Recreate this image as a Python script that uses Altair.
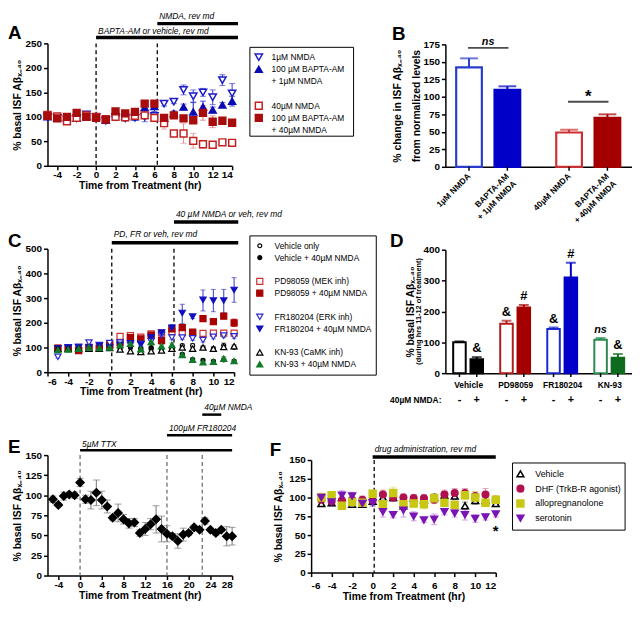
import altair as alt
import pandas as pd

FONT = "Liberation Sans"
T = "transparent"
YT = "% basal ISF Aβₓ₋₄₀"
XT = "Time from Treatment (hr)"

# ---------------- Panel A data ----------------
A_hours = [-5, -4, -3, -2, -1, 0, 1, 2, 3, 4, 5, 6, 7, 8, 9, 10, 11, 12, 13, 14]
A_nmda1 = [100, 98, 95, 97, 105, 100, 92, 100, 97, 98, 100, 102, 127, 131, 155, 142, 150, 140, 175, 148]
A_nmda1_err = [4, 3, 3, 4, 5, 6, 4, 4, 5, 5, 10, 6, 5, 4, 10, 13, 8, 15, 11, 20]
A_bapta1 = [100, 98, 98, 97, 100, 102, 93, 108, 102, 100, 119, 121, 97, 107, 120, 110, 120, 114, 124, 132]
A_bapta1_err = [3, 3, 3, 3, 4, 4, 4, 4, 5, 5, 10, 10, 6, 5, 6, 20, 12, 6, 5, 10]
A_nmda40 = [104, 101, 91, 98, 103, 100, 95, 100, 99, 102, 103, 98, 87, 66, 66, 51, 44, 43, 48, 47]
A_nmda40_err = [4, 4, 6, 4, 4, 5, 4, 4, 5, 6, 5, 4, 12, 5, 20, 15, 8, 4, 4, 4]
A_bapta40 = [102, 97, 100, 108, 100, 98, 95, 111, 107, 110, 127, 127, 98, 103, 97, 93, 108, 90, 92, 88]
A_bapta40_err = [4, 4, 5, 5, 5, 5, 5, 5, 5, 6, 6, 6, 6, 5, 5, 5, 15, 12, 5, 6]
A_legend = ["1µM NMDA", "100 µM BAPTA-AM", "+ 1µM NMDA", " ", "40µM NMDA", "100 µM BAPTA-AM ", "+ 40µM NMDA"]
A_ann_labels = ["NMDA, rev md", "BAPTA-AM or vehicle, rev md"]
A_ann_start = [6.3, 0]
A_ann_end = [14.6, 14.6]
A_vlines = [0, 6.3]

# ---------------- Panel B data ----------------
B_labels = ["1µM NMDA", "BAPTA-AM\n+ 1µM NMDA", "40µM NMDA", "BAPTA-AM\n+ 40µM NMDA"]
B_dose_order = ["1µM", "40µM"]
B_dose = ["1µM", "1µM", "40µM", "40µM"]
B_pre = ["none", "BAPTA-AM", "none", "BAPTA-AM"]
B_values = [142, 110, 49, 70]
B_sem = [13, 5, 4, 5]
B_sig_dose = ["1µM", "40µM"]
B_sig_y = [170, 93]
B_sig_txt = ["ns", "*"]

# ---------------- Panel C data ----------------
C_hours = [-5, -4, -3, -2, -1, 0, 1, 2, 3, 4, 5, 6, 7, 8, 9, 10, 11, 12]
C_veh = [95, 97, 100, 100, 98, 105, 95, 100, 96, 95, 97, 97, 108, 108, 99, 95, 108, 100]
C_veh_err = [4, 4, 5, 5, 4, 6, 5, 5, 5, 5, 5, 6, 6, 8, 7, 8, 10, 6]
C_vehN = [93, 95, 97, 98, 100, 103, 104, 104, 93, 100, 93, 95, 72, 51, 48, 44, 50, 44]
C_vehN_err = [4, 4, 5, 5, 4, 5, 6, 6, 5, 5, 5, 6, 6, 6, 6, 6, 6, 5]
C_pd = [98, 97, 90, 97, 97, 112, 145, 148, 142, 155, 158, 165, 160, 157, 157, 158, 158, 158]
C_pd_err = [5, 4, 5, 5, 5, 6, 6, 7, 7, 8, 8, 9, 8, 8, 8, 8, 8, 8]
C_pdN = [95, 96, 87, 100, 96, 108, 120, 140, 135, 150, 128, 175, 180, 162, 217, 205, 227, 200]
C_pdN_err = [5, 5, 6, 6, 6, 7, 8, 10, 9, 10, 10, 15, 10, 10, 10, 10, 10, 15]
C_fr = [62, 100, 103, 120, 110, 118, 120, 110, 115, 125, 150, 140, 140, 137, 130, 143, 148, 145]
C_fr_err = [5, 5, 6, 6, 6, 6, 6, 6, 6, 7, 8, 8, 8, 8, 8, 8, 8, 8]
C_frN = [97, 100, 100, 100, 107, 100, 110, 117, 112, 140, 160, 180, 240, 225, 293, 290, 290, 333]
C_frN_dn = [5, 5, 5, 5, 6, 6, 6, 8, 8, 10, 10, 12, 43, 8, 45, 45, 50, 50]
C_frN_up = [5, 5, 5, 5, 6, 6, 6, 8, 8, 10, 10, 12, 35, 8, 40, 45, 45, 50]
C_kn = [95, 95, 97, 95, 95, 98, 92, 85, 82, 85, 88, 95, 100, 95, 100, 95, 102, 105]
C_kn_err = [4, 4, 5, 5, 5, 5, 5, 5, 5, 5, 5, 6, 6, 6, 6, 6, 8, 6]
C_knN = [90, 92, 95, 100, 98, 100, 110, 115, 93, 122, 105, 110, 70, 50, 40, 42, 55, 45]
C_knN_err = [5, 5, 5, 6, 6, 6, 7, 7, 6, 7, 6, 8, 6, 6, 6, 6, 8, 6]
C_legend = ["Vehicle only", "Vehicle + 40µM NMDA", " ",
            "PD98059 (MEK inh)", "PD98059 + 40µM NMDA", "  ",
            "FR180204 (ERK inh)", "FR180204 + 40µM NMDA", "   ",
            "KN-93 (CaMK inh)", "KN-93 + 40µM NMDA"]
C_ann_labels = ["40 µM NMDA or veh, rev md", "PD, FR or veh, rev md"]
C_ann_start = [6.2, 0.2]
C_ann_end = [12.4, 12.4]
C_vlines = [0.2, 6.2]

# ---------------- Panel D data ----------------
D_drug_order = ["Vehicle", "PD98059", "FR180204", "KN-93"]
D_drug = ["Vehicle", "Vehicle", "PD98059", "PD98059", "FR180204", "FR180204", "KN-93", "KN-93"]
D_nmda = ["-", "+", "-", "+", "-", "+", "-", "+"]
D_values = [100, 45, 160, 213, 143, 310, 108, 50]
D_sem = [3, 7, 10, 8, 5, 48, 6, 12]
D_marks = ["", "&", "&", "#", "&", "#", "ns", "&"]

# ---------------- Panel E data ----------------
E_hours = [-5, -4, -3, -2, -1, 0, 1, 2, 3, 4, 5, 6, 7, 8, 9, 10, 11, 12, 13, 14, 15, 16,
           17, 18, 19, 20, 21, 22, 23, 24, 25, 26, 27, 28]
E_values = [95, 88, 99, 101, 100, 116, 95, 94, 103, 94, 86, 72, 78, 70, 65, 66, 53, 58, 64, 70,
            58, 52, 49, 43, 51, 53, 60, 57, 68, 57, 53, 57, 49, 49]
E_sem = [4, 2, 5, 2, 4, 5, 5, 11, 16, 11, 8, 3, 11, 6, 6, 5, 4, 8, 7, 17, 16, 10, 3, 9, 8, 3,
         2, 2, 4, 2, 3, 2, 12, 11]
E_ann_labels = ["40µM NMDA", "100µM FR180204", "5µM TTX"]
E_ann_start = [22.5, 16, 0]
E_ann_end = [26, 28, 28]
E_vlines = [0, 16, 22.5]

# ---------------- Panel F data ----------------
F_hours = [-5, -4, -3, -2, -1, 0, 1, 2, 3, 4, 5, 6, 7, 8, 9, 10, 11, 12]
F_veh = [92, 93, 100, 91, 91, 95, 100, 100, 89, 99, 97, 100, 103, 102, 89, 96, 96, 92]
F_veh_err = [4, 4, 5, 4, 4, 5, 5, 5, 5, 5, 5, 5, 5, 5, 5, 5, 5, 4]
F_dhf = [97, 95, 96, 97, 97, 96, 104, 100, 100, 99, 99, 97, 104, 106, 106, 102, 104, 97]
F_dhf_err = [5, 5, 5, 5, 5, 5, 6, 5, 5, 5, 5, 5, 6, 6, 6, 6, 8, 5]
F_allo = [100, 103, 89, 94, 93, 105, 91, 106, 91, 92, 91, 99, 93, 90, 103, 100, 93, 97]
F_allo_err = [6, 5, 5, 5, 5, 5, 6, 8, 5, 5, 6, 6, 5, 5, 6, 8, 5, 5]
F_sero = [100, 94, 103, 102, 92, 93, 81, 77, 83, 75, 70, 71, 81, 79, 77, 72, 74, 78]
F_sero_err = [5, 5, 6, 5, 5, 5, 7, 4, 9, 6, 3, 7, 4, 5, 7, 5, 4, 4]
F_legend = ["Vehicle", "DHF (TrkB-R agonist)", "allopregnanolone", "serotonin"]
F_ann_labels = ["drug administration, rev md"]
F_ann_start = [0]
F_ann_end = [12]
F_vlines = [0.15]
F_star = ("*", 12, 55)

# ---------------- styles ----------------
AX = dict(labelFont=FONT, labelFontSize=10, labelFontWeight="bold", labelColor="black",
          titleFont=FONT, titleFontSize=10.5, titleFontWeight="bold", titleColor="black",
          domainColor="black", domainWidth=1.5, tickColor="black", tickWidth=1.5,
          tickSize=4, grid=False)


def one(**kw):
    return pd.DataFrame({k: [v] for k, v in kw.items()})


def letter_layer(letter, x, y):
    return alt.Chart(one(t=letter)).mark_text(
        align="left", baseline="middle", font=FONT, fontSize=19, fontWeight="bold", color="black"
    ).encode(text="t:N", x=alt.value(x), y=alt.value(y))


def tc_layers(letter, hours, series, dom, fills, strokes, shapes, sizes, errcols,
              xdom, xvals, ydom, yvals, x0, w, y0, h, vlines, vcolor, ann, ann_levels,
              legend, letter_xy, xlab_pad=0, ytitle_pad=3, cap=6, psw=1.5, ann_bar=3.5,
              extra=None, xaxis_offset=0, yaxis_offset=0):
    rows = []
    for name, vals, dn, up in series:
        for t, v, d, u in zip(hours, vals, dn, up):
            rows.append({"hour": t, "series": name, "value": v, "lo": v - d, "hi": v + u})
    df = pd.DataFrame(rows)
    xs = alt.Scale(domain=xdom, range=[x0, x0 + w], nice=False, zero=False)
    ys = alt.Scale(domain=ydom, range=[y0 + h, y0], nice=False, zero=False)
    xax = alt.Axis(values=xvals, title=XT, labelPadding=xlab_pad, titlePadding=1,
                   labelExpr="datum.value", orient="bottom", offset=xaxis_offset, **AX)
    yax = alt.Axis(values=yvals, title=YT, labelPadding=2, titlePadding=ytitle_pad,
                   labelExpr="datum.value", orient="left", offset=yaxis_offset, **AX)

    def X(f):
        return alt.X(f, type="quantitative", scale=xs, axis=xax)

    def Y(f):
        return alt.Y(f, type="quantitative", scale=ys, axis=yax)

    ecol = alt.Color("series:N", scale=alt.Scale(domain=dom, range=errcols), legend=None)
    fill = alt.Fill("series:N", scale=alt.Scale(domain=dom, range=fills), legend=None)
    stroke = alt.Stroke("series:N", scale=alt.Scale(domain=dom, range=strokes), legend=None)
    shape = alt.Shape("series:N", scale=alt.Scale(domain=dom, range=shapes), legend=None)
    size = alt.Size("series:N", scale=alt.Scale(type="ordinal", domain=dom, range=sizes), legend=None)

    layers = []
    layers.append(alt.Chart(pd.DataFrame({"t": vlines})).mark_rule(
        strokeDash=[4, 3], strokeWidth=1.3, color=vcolor).encode(
        x=X("t"), y=alt.YDatum(ydom[1], scale=ys, axis=yax), y2=alt.Y2Datum(ydom[0])))
    layers.append(alt.Chart(df).mark_rule(strokeWidth=1.1).encode(
        x=X("hour"), y=Y("lo"), y2="hi:Q", color=ecol))
    layers.append(alt.Chart(df).transform_fold(["lo", "hi"], as_=["k", "cap"]).mark_tick(
        orient="horizontal", size=cap, thickness=1.1).encode(x=X("hour"), y=Y("cap"), color=ecol))
    layers.append(alt.Chart(df).mark_point(filled=True, opacity=1, strokeWidth=psw).encode(
        x=X("hour"), y=Y("value"), fill=fill, stroke=stroke, shape=shape, size=size))
    labels, starts, ends = ann
    for (lab, s, e), (ty, by) in zip(zip(labels, starts, ends), ann_levels):
        adf = one(start=s, end=e, label=lab)
        layers.append(alt.Chart(adf).mark_rule(strokeWidth=ann_bar, color="black").encode(
            x=X("start"), x2="end:Q", y=alt.value(y0 + by)))
        layers.append(alt.Chart(adf).mark_text(
            align="left", baseline="middle", fontStyle="italic", font=FONT, fontSize=8.5,
            color="black", dx=2).encode(x=X("start"), y=alt.value(y0 + ty), text="label:N"))
    if extra is not None:
        txt, ex, ey = extra
        layers.append(alt.Chart(one(t=txt, x=ex, y=ey)).mark_text(
            font=FONT, fontSize=15, fontWeight="bold", baseline="middle", color="black").encode(
            x=X("x"), y=Y("y"), text="t:N"))
    if legend is not None:
        lx, ly, bw, bh, first, step, sdx, tdx, lfont = legend
        lx, ly = lx + x0, ly + y0
        ldf = pd.DataFrame({"series": dom, "label": [s.strip() for s in dom],
                            "py": [ly + first + i * step for i in range(len(dom))]})
        layers.append(alt.Chart(one(a=0)).mark_rect(fill="white", stroke="black", strokeWidth=1).encode(
            x=alt.value(lx), x2=alt.value(lx + bw), y=alt.value(ly), y2=alt.value(ly + bh)))
        layers.append(alt.Chart(ldf).mark_point(filled=True, opacity=1, strokeWidth=psw).encode(
            x=alt.value(lx + sdx), y=alt.Y("py:Q", scale=None),
            fill=fill, stroke=stroke, shape=shape, size=size))
        layers.append(alt.Chart(ldf).mark_text(
            align="left", baseline="middle", font=FONT, fontSize=lfont, color="black").encode(
            x=alt.value(lx + tdx), y=alt.Y("py:Q", scale=None), text="label:N"))
    layers.append(letter_layer(letter, x0 + letter_xy[0], y0 + letter_xy[1]))
    return layers


# ---------------- Panel A ----------------
A = alt.layer(*tc_layers(
    "A", A_hours,
    [(A_legend[0], A_nmda1, A_nmda1_err, A_nmda1_err),
     (A_legend[1], A_bapta1, A_bapta1_err, A_bapta1_err),
     (A_legend[4], A_nmda40, A_nmda40_err, A_nmda40_err),
     (A_legend[5], A_bapta40, A_bapta40_err, A_bapta40_err)],
    A_legend,
    ["white", "#0b0bb4", T, T, "white", "#a80c0c", T],
    ["#1c1cc8", "#0b0bb4", T, T, "#c42020", "#a80c0c", T],
    ["triangle-down", "triangle-up", "circle", "circle", "square", "square", "circle"],
    [55, 50, 10, 10, 48, 48, 10],
    ["#4a4ad8", "#2a2ac0", T, T, "#e09a9a", "#d88080", T],
    [-5, 14], [-4, -2, 0, 2, 4, 6, 8, 10, 12, 14], [0, 250], [0, 50, 100, 150, 200, 250],
    0, 187, 0, 124, A_vlines, "black",
    (A_ann_labels, A_ann_start, A_ann_end), [(-28, -20), (-13, -6)],
    (205, 4, 105, 90, 10, 12.3, 9, 22, 8.5), (-40, -10))).properties(width=187, height=124)


# ---------------- Panel B ----------------
def panel_B():
    # group index and side within group -> continuous bar position (group spacing = 1 unit)
    pos = [B_dose_order.index(d) + (-0.1916 if p == "none" else 0.1916) for d, p in zip(B_dose, B_pre)]
    df = pd.DataFrame({"label": B_labels, "pos": pos, "value": B_values,
                       "hi": [v + e for v, e in zip(B_values, B_sem)]})
    w, vh, h0 = 189, 125, 1
    ys = alt.Scale(domain=[0, 175], range=[vh, h0], nice=False)
    xs = alt.Scale(domain=[-0.3785, 1.388], nice=False, zero=False)
    fills = ["white", "#0000c8", "white", "#a50000"]
    strokes = ["#2a3ccc", "#0000c8", "#cc3030", "#a50000"]
    xax = alt.Axis(labels=False, ticks=False, title=None, grid=False,
                   domainColor="black", domainWidth=1.5)
    yax = alt.Axis(values=[0, 25, 50, 75, 100, 125, 150, 175],
                   title=["% change in ISF Aβₓ₋₄₀", "from normalized levels"],
                   titleLineHeight=19, labelPadding=2, titlePadding=2, **AX)

    def X(f="pos"):
        return alt.X(f, type="quantitative", scale=xs, axis=xax)

    def Y(f):
        return alt.Y(f, type="quantitative", scale=ys, axis=yax)
    col = alt.Color("label:N", scale=alt.Scale(domain=B_labels, range=strokes), legend=None)

    bars = alt.Chart(df).mark_bar(size=26, strokeWidth=2.2, orient="vertical").encode(
        x=X(), y=Y("value"),
        fill=alt.Fill("label:N", scale=alt.Scale(domain=B_labels, range=fills), legend=None),
        stroke=alt.Stroke("label:N", scale=alt.Scale(domain=B_labels, range=strokes), legend=None))
    err = alt.Chart(df).mark_rule(strokeWidth=2).encode(x=X(), y=Y("value"), y2="hi:Q", color=col)
    caps = alt.Chart(df).mark_tick(orient="horizontal", size=18, thickness=2).encode(
        x=X(), y=Y("hi"), color=col)
    ticks = alt.Chart(df).mark_rule(color="black", strokeWidth=1.5).encode(
        x=X(), y=alt.value(vh), y2=alt.value(vh + 4))
    labels = alt.Chart(df).mark_text(
        angle=315, align="right", baseline="middle", lineBreak="\n", font=FONT,
        fontSize=8.5, fontWeight="bold", color="black").encode(
        x=X(), y=alt.value(vh + 8), text="label:N")
    layers = [bars, err, caps, ticks, labels]
    for d, yv, txt in zip(B_sig_dose, B_sig_y, B_sig_txt):
        sdf = one(g=B_dose_order.index(d), y=yv, t=txt)
        layers.append(alt.Chart(sdf).mark_tick(orient="horizontal", size=41, thickness=2,
                                               color="black").encode(x=X("g"), y=Y("y")))
        if txt == "*":
            mk = alt.Chart(sdf).mark_text(font=FONT, fontSize=17, fontWeight="bold",
                                          baseline="bottom", dy=4, color="black")
        else:
            mk = alt.Chart(sdf).mark_text(font=FONT, fontSize=11, fontWeight="bold",
                                          fontStyle="italic", baseline="bottom", dy=-1, color="black")
        layers.append(mk.encode(x=X("g"), y=Y("y"), text="t:N"))
    layers.append(letter_layer("B", -54, -9))
    return alt.layer(*layers).properties(width=w, height=vh)


B = panel_B()

# ---------------- Panel C ----------------
C = alt.layer(*tc_layers(
    "C", C_hours,
    [(C_legend[0], C_veh, C_veh_err, C_veh_err),
     (C_legend[1], C_vehN, C_vehN_err, C_vehN_err),
     (C_legend[3], C_pd, C_pd_err, C_pd_err),
     (C_legend[4], C_pdN, C_pdN_err, C_pdN_err),
     (C_legend[6], C_fr, C_fr_err, C_fr_err),
     (C_legend[7], C_frN, C_frN_dn, C_frN_up),
     (C_legend[9], C_kn, C_kn_err, C_kn_err),
     (C_legend[10], C_knN, C_knN_err, C_knN_err)],
    C_legend,
    ["white", "black", T, "white", "#a80000", T, "white", "#1010c0", T, "white", "#137a2a"],
    ["black", "black", T, "#cc3333", "#a80000", T, "#2a2ad0", "#1010c0", T, "black", "#137a2a"],
    ["circle", "circle", "circle", "square", "square", "circle", "triangle-down",
     "triangle-down", "circle", "triangle-up", "triangle-up"],
    [16, 16, 10, 38, 38, 10, 40, 40, 10, 40, 40],
    ["#555555", "#333333", T, "#d08080", "#a80000", T, "#6a6ad4", "#4848c8", T, "#555555", "#3a8a4a"],
    [-6, 12], [-6, -4, -2, 0, 2, 4, 6, 8, 10, 12], [0, 500], [0, 100, 200, 300, 400, 500],
    0, 189, 0, 125, C_vlines, "black",
    (C_ann_labels, C_ann_start, C_ann_end), [(-35, -27), (-15, -6)],
    (205, -13, 128, 141, 10, 12, 10, 25, 8.5), (-40, -8), cap=5, psw=1.2)
).properties(width=189, height=125)


# ---------------- Panel D ----------------
def panel_D():
    keys = [d + "|" + n for d, n in zip(D_drug, D_nmda)]
    pos = [D_drug_order.index(d) + (-0.184 if n == "-" else 0.184) for d, n in zip(D_drug, D_nmda)]
    df = pd.DataFrame({"key": keys, "pos": pos, "nmda": D_nmda, "value": D_values,
                       "hi": [v + e for v, e in zip(D_values, D_sem)], "mark": D_marks})
    w, vh, h0 = 189, 126, 1
    ys = alt.Scale(domain=[0, 400], range=[vh, h0], nice=False)
    xs = alt.Scale(domain=[-0.378, 3.379], nice=False, zero=False)
    fills = ["white", "#000000", "white", "#a50000", "white", "#0000c8", "white", "#0d6b1e"]
    strokes = ["#000000", "#000000", "#b01c1c", "#a50000", "#1a2ad0", "#0000c8", "#2b8a50", "#0d6b1e"]
    dax = dict(AX)
    dax.update(labelFontSize=8.5)
    name_expr = "[" + ",".join("'" + s + "'" for s in D_drug_order) + "][datum.value]"
    xax = alt.Axis(values=list(range(len(D_drug_order))), labelExpr=name_expr, ticks=False,
                   title=None, labelAngle=0, labelPadding=8, **dax)
    yax = alt.Axis(values=[0, 100, 200, 300, 400], title=YT, labelPadding=2, titlePadding=8, **AX)

    def X(f="pos"):
        return alt.X(f, type="quantitative", scale=xs, axis=xax)

    def Y(f):
        return alt.Y(f, type="quantitative", scale=ys, axis=yax)
    col = alt.Color("key:N", scale=alt.Scale(domain=keys, range=strokes), legend=None)
    bars = alt.Chart(df).mark_bar(size=12.7, strokeWidth=2, orient="vertical").encode(
        x=X(), y=Y("value"),
        fill=alt.Fill("key:N", scale=alt.Scale(domain=keys, range=fills), legend=None),
        stroke=alt.Stroke("key:N", scale=alt.Scale(domain=keys, range=strokes), legend=None))
    err = alt.Chart(df).mark_rule(strokeWidth=2).encode(x=X(), y=Y("value"), y2="hi:Q", color=col)
    caps = alt.Chart(df).mark_tick(orient="horizontal", size=10, thickness=2).encode(
        x=X(), y=Y("hi"), color=col)
    ticks = alt.Chart(df).mark_rule(color="black", strokeWidth=1.5).encode(
        x=X(), y=alt.value(vh), y2=alt.value(vh + 4))
    signs = alt.Chart(df).mark_text(font=FONT, fontSize=11, fontWeight="bold", color="black",
                                    baseline="middle").encode(
        x=X(), y=alt.value(vh + 27), text="nmda:N")
    sym = alt.Chart(df).transform_filter("datum.mark == '&' || datum.mark == '#'").mark_text(
        font=FONT, fontSize=13, fontWeight="bold", color="black", baseline="bottom", dy=-2).encode(
        x=X(), y=Y("hi"), text="mark:N")
    ns = alt.Chart(df).transform_filter("datum.mark == 'ns'").mark_text(
        font=FONT, fontSize=11, fontWeight="bold", fontStyle="italic", color="black",
        baseline="bottom", dy=-3).encode(x=X(), y=Y("hi"), text="mark:N")
    nlab = alt.Chart(one(t="40µM NMDA:")).mark_text(
        font=FONT, fontSize=8.5, fontWeight="bold", color="black", align="right",
        baseline="middle").encode(text="t:N", x=alt.value(-4), y=alt.value(vh + 27))
    sub = alt.Chart(one(t="(during hrs 11-12 of treatment)")).mark_text(
        font=FONT, fontSize=7.5, fontWeight="bold", color="black", angle=270,
        baseline="middle").encode(text="t:N", x=alt.value(-27), y=alt.value((vh + h0) / 2))
    return alt.layer(bars, err, caps, ticks, signs, sym, ns, nlab, sub,
                     letter_layer("D", -56, -8)).properties(width=w, height=vh)


D = panel_D()

# ---------------- Panel E ----------------
E = alt.layer(*tc_layers(
    "E", E_hours, [("TTX", E_values, E_sem, E_sem)], ["TTX"],
    ["black"], ["black"], ["diamond"], [65], ["#808080"],
    [-6, 28], [-4, 0, 4, 8, 12, 16, 20, 24, 28], [0, 150], [0, 25, 50, 75, 100, 125, 150],
    0, 187, 0, 122, E_vlines, "#707070",
    (E_ann_labels, E_ann_start, E_ann_end), [(-49, -41), (-27, -20), (-11, -5)],
    None, (-40, -8), cap=7, ann_bar=2.5)).properties(width=187, height=122)

# ---------------- Panel F (view in column 2, plot drawn 136 px to its left) ----------------
F_X0 = -136
F = alt.layer(*tc_layers(
    "F", F_hours,
    [(F_legend[0], F_veh, F_veh_err, F_veh_err),
     (F_legend[1], F_dhf, F_dhf_err, F_dhf_err),
     (F_legend[2], F_allo, F_allo_err, F_allo_err),
     (F_legend[3], F_sero, F_sero_err, F_sero_err)],
    F_legend,
    ["white", "#b0124e", "#c8c814", "#7a14b4"],
    ["black", "#b0124e", "#c8c814", "#7a14b4"],
    ["triangle-up", "circle", "square", "triangle-down"],
    [48, 45, 50, 48],
    ["#777777", "#d88aa8", "#e6e080", "#c08ae0"],
    [-6, 12], [-6, -4, -2, 0, 2, 4, 6, 8, 10, 12], [0, 150], [0, 25, 50, 75, 100, 125, 150],
    F_X0, 187, 5, 114, F_vlines, "black",
    (F_ann_labels, F_ann_start, F_ann_end), [(-11, -3)],
    (204, 3, 114, 68, 11, 15, 8, 23, 9), (-42, -10), xlab_pad=4, ytitle_pad=5,
    extra=F_star, xaxis_offset=119 - 122, yaxis_offset=-F_X0)).properties(width=189, height=122)

# ---------------- layout ----------------
RC = dict(color="independent", fill="independent", stroke="independent",
          shape="independent", size="independent")
chart = (alt.concat(A, B, C, D, E, F, columns=2, bounds="flush", align="each",
                    spacing={"row": 83, "column": 214})
         .resolve_scale(**RC)
         .properties(padding=0)
         .configure(font=FONT)
         .configure_view(stroke=None))

chart.save("out.html", embed_options={"renderer": "svg", "actions": False})
